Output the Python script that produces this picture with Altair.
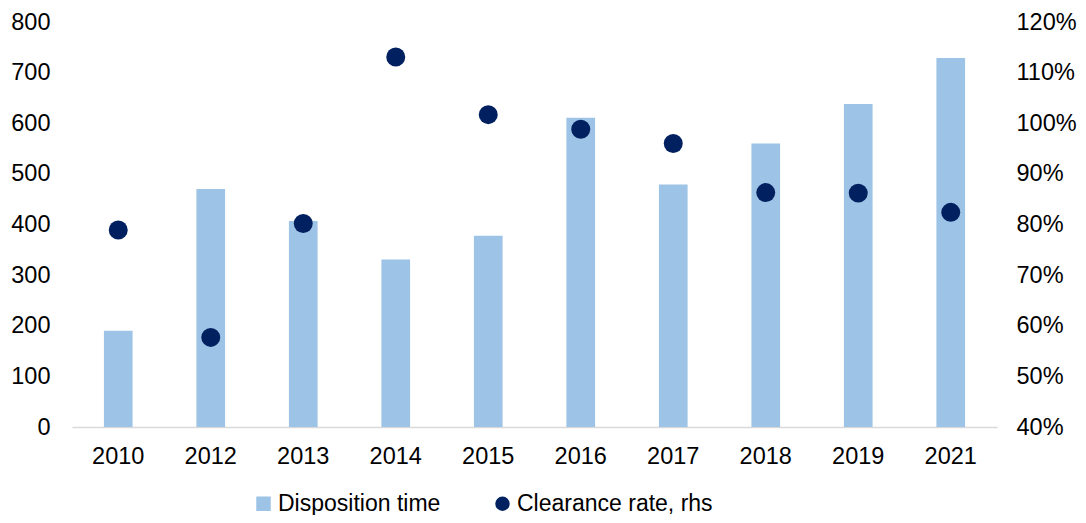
import altair as alt
import pandas as pd

years = ["2010", "2012", "2013", "2014", "2015", "2016", "2017", "2018", "2019", "2021"]
disposition_time = [190, 470, 407, 331, 378, 611, 479, 560, 638, 729]
clearance_rate = [78.9, 57.7, 80.2, 113.1, 101.7, 98.8, 96.0, 86.3, 86.2, 82.4]

series_names = ["Disposition time", "Clearance rate, rhs"]

bars_df = pd.DataFrame({"year": years, "value": disposition_time, "series": series_names[0]})
dots_df = pd.DataFrame({"year": years, "value": clearance_rate, "series": series_names[1]})

FONT = "Liberation Sans"
BAR_COLOR = "#9DC3E6"
DOT_COLOR = "#002060"

color_scale = alt.Scale(domain=series_names, range=[BAR_COLOR, DOT_COLOR])
shape_scale = alt.Scale(domain=series_names, range=["square", "circle"])

x_enc = alt.X(
    "year:N",
    sort=years,
    scale=alt.Scale(paddingInner=0.69, paddingOuter=0.345),
    axis=alt.Axis(
        title=None, labelAngle=0, ticks=False, domainColor="#D9D9D9", domainWidth=1.5,
        labelFont=FONT, labelFontSize=23.5, labelColor="#000000", labelPadding=17, grid=False,
    ),
)

legend = alt.Legend(
    title=None, orient="none", direction="horizontal", legendX=180, legendY=470,
    labelFont=FONT, labelFontSize=23, labelColor="#000000", symbolSize=210, labelLimit=0,
    symbolStrokeWidth=0, columnPadding=50, labelOffset=3, symbolOpacity=1,
)

bars = alt.Chart(bars_df).mark_bar(opacity=1).encode(
    x=x_enc,
    y=alt.Y(
        "value:Q",
        scale=alt.Scale(domain=[0, 800], nice=False),
        axis=alt.Axis(
            title=None, values=list(range(0, 801, 100)), domain=False, ticks=False, grid=False,
            labelFont=FONT, labelFontSize=23.5, labelColor="#000000", labelPadding=22,
        ),
    ),
    color=alt.Color("series:N", scale=color_scale, legend=legend),
)

dots = alt.Chart(dots_df).mark_point(filled=True, opacity=1, size=360).encode(
    x=alt.X("year:N", sort=years),
    y=alt.Y(
        "value:Q",
        scale=alt.Scale(domain=[40, 120], nice=False),
        axis=alt.Axis(
            title=None, orient="right", values=list(range(40, 121, 10)), domain=False, ticks=False,
            grid=False, labelFont=FONT, labelFontSize=23.5, labelColor="#000000", labelPadding=19,
            labelExpr="datum.value + '%'",
        ),
    ),
    color=alt.Color("series:N", scale=color_scale, legend=legend),
    shape=alt.Shape("series:N", scale=shape_scale, legend=legend),
)

chart = (
    alt.layer(bars, dots)
    .resolve_scale(y="independent")
    .properties(
        width=925, height=405,
        autosize=alt.AutoSizeParams(type="none"),
        padding={"left": 64, "top": 14, "right": 81, "bottom": 88},
    )
    .configure(background="white")
    .configure_view(strokeWidth=0, stroke="transparent")
)

chart.save("out.html", embed_options={"renderer": "svg", "actions": False})
